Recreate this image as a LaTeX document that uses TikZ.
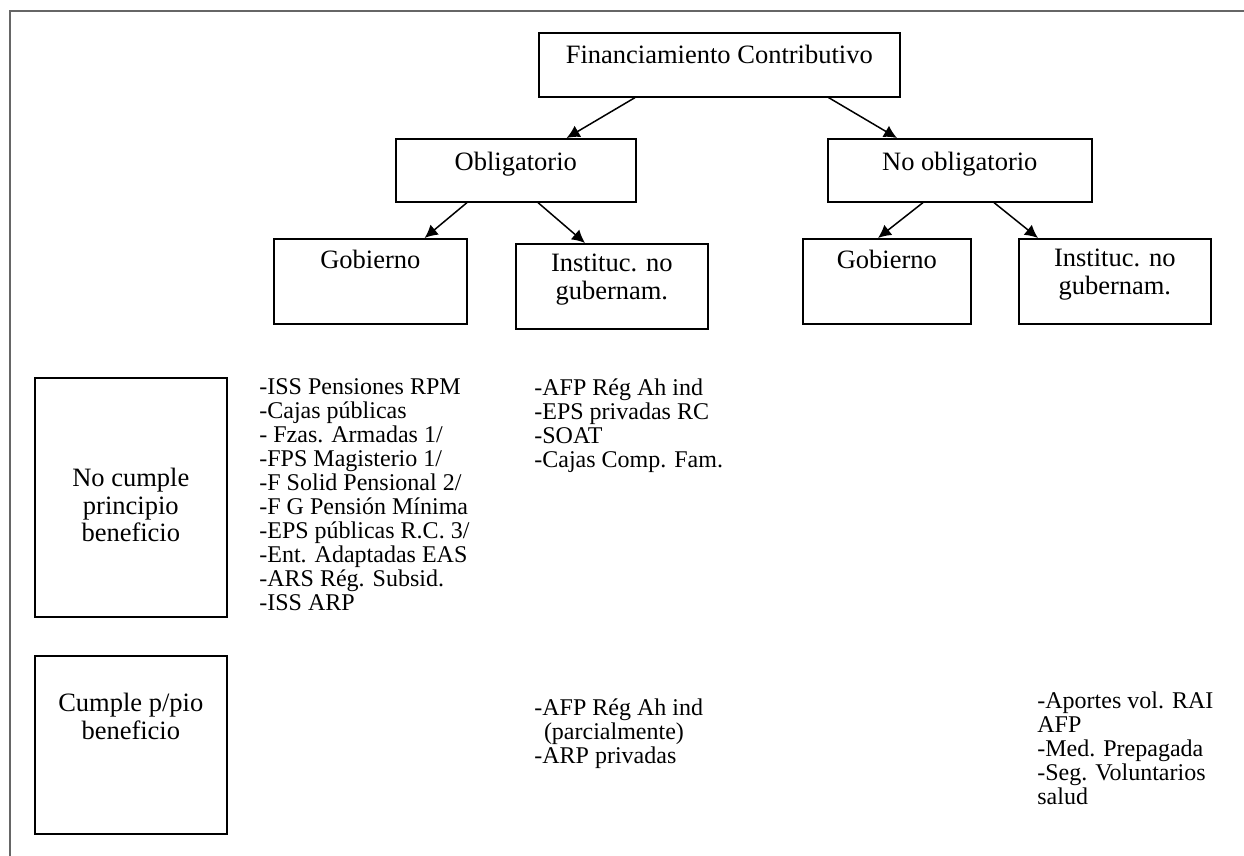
\documentclass[tikz,border=0pt]{standalone}
\usepackage{fontspec}
\setmainfont{Liberation Serif}
\usetikzlibrary{arrows.meta}
\usetikzlibrary{calc}
\usetikzlibrary{positioning}
\tikzset{box/.style = {draw, line width=0.8pt, inner sep=0, anchor=north west}}
\tikzset{lbl/.style = {inner sep=0, align=center, anchor=north,
                       font=\fontsize{13.25}{13.75}\selectfont,
                       execute at begin node=\strut}}
\tikzset{lst/.style = {inner sep=0, align=left, anchor=north west,
                       font=\fontsize{12}{12}\selectfont,
                       execute at begin node=\strut}}
\tikzset{arr/.style = {-{Latex[length=6.5pt, width=6.5pt]}, line width=0.75pt}}

\begin{document}
\begin{tikzpicture}[x=0.5pt, y=-0.5pt]
    \useasboundingbox (0, 0) rectangle (1244, 856);
    \draw [black!60, line width=0.6pt] (1244, 11) -- (10, 11) -- (10, 856);

    \node [box, minimum width=180.5pt, minimum height=32pt] (fin) at (538, 32) {};
    \node [box, minimum width=120pt, minimum height=31.5pt] (obl) at (395, 138) {};
    \node [box, minimum width=132pt, minimum height=31.5pt] (nob) at (827, 138) {};
    \node [box, minimum width=96.5pt, minimum height=42.5pt] (gobL) at (273, 238) {};
    \node [box, minimum width=96pt, minimum height=42.5pt] (insL) at (515, 243) {};
    \node [box, minimum width=84pt, minimum height=42.5pt] (gobR) at (802, 238) {};
    \node [box, minimum width=96pt, minimum height=42.5pt] (insR) at (1018, 238) {};
    \node [box, minimum width=96pt, minimum height=119.5pt] (noc) at (34, 377) {};
    \node [box, minimum width=96pt, minimum height=89pt] (cum) at (34, 655) {};

    \node [lbl] (finT) at ($(fin.north)+(0, 11.75)$) {Financiamiento Contributivo};
    \node [lbl] (oblT) at ($(obl.north)+(0, 12.75)$) {Obligatorio};
    \node [lbl] (nobT) at ($(nob.north)+(0, 12.75)$) {No obligatorio};
    \node [lbl] (gobLT) at ($(gobL.north)+(0, 10.75)$) {Gobierno};
    \node [lbl] (insLT) at ($(insL.north)+(0, 10.75)$) {Instituc. no\\gubernam.};
    \node [lbl] (gobRT) at ($(gobR.north)+(0, 10.75)$) {Gobierno};
    \node [lbl] (insRT) at ($(insR.north)+(0, 10.75)$) {Instituc. no\\gubernam.};
    \node [lbl] (nocT) at ($(noc.north)+(0, 90.75)$) {No cumple\\principio\\beneficio};
    \node [lbl] (cumT) at ($(cum.north)+(0, 37.75)$) {Cumple p/pio\\beneficio};

    \draw [arr] ($(fin.south west)+(97, 0)$) -- ($(obl.north east)+(-70, 0)$);
    \draw [arr] ($(fin.south east)+(-72, 0)$) -- ($(nob.north west)+(70, 0)$);
    \draw [arr] ($(obl.south west)+(72, 0)$) -- ($(gobL.north east)+(-43, 0)$);
    \draw [arr] ($(obl.south west)+(143, 0)$) -- ($(insL.north west)+(70, 0)$);
    \draw [arr] ($(nob.south west)+(96, 0)$) -- ($(gobR.north west)+(76, 0)$);
    \draw [arr] ($(nob.south west)+(167, 0)$) -- ($(insR.north west)+(20, 0)$);

    % lists
    \node [lst] (lstA) at (259, 378.2) {-ISS Pensiones RPM\\-Cajas públicas\\- Fzas. Armadas 1/\\-FPS Magisterio 1/\\-F Solid Pensional 2/\\-F G Pensión Mínima\\-EPS públicas R.C. 3/\\-Ent. Adaptadas EAS\\-ARS Rég. Subsid.\\-ISS ARP};
    \node [lst] (lstB) at (534, 378.2) {-AFP Rég Ah ind\\-EPS privadas RC\\-SOAT\\-Cajas Comp. Fam.};
    \node [lst] (lstC) at (534, 698.2) {-AFP Rég Ah ind\\\hspace*{0.4em}(parcialmente)\\-ARP privadas};
    \node [lst] (lstD) at (1037, 691.2) {-Aportes vol. RAI\\AFP\\-Med. Prepagada\\-Seg. Voluntarios\\salud};
\end{tikzpicture}
\end{document}
